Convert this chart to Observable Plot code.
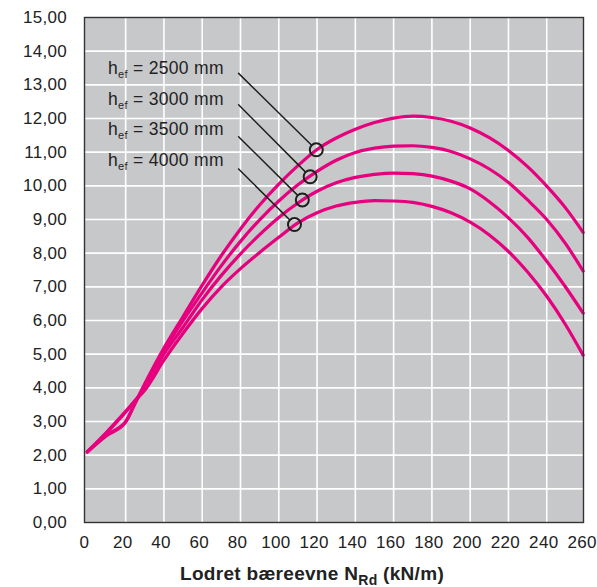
<!DOCTYPE html>
<html>
<head>
<meta charset="utf-8">
<script src="https://cdn.jsdelivr.net/npm/d3@7"></script>
<script src="https://cdn.jsdelivr.net/npm/@observablehq/plot@0.6"></script>
<style>
  body { margin: 0; background: #fff; }
  #chart svg { display: block; }
</style>
</head>
<body>
<div id="chart"></div>
<script>
// Lodret bæreevne N_Rd (kN/m)
const loadKN = [0, 10, 20, 25, 30, 40, 50, 60, 70, 80, 90, 100, 110, 120, 130, 140, 150, 160, 170, 180, 190, 200, 210, 220, 230, 240, 250, 259];
// curve values per effective height
const hef2500 = [2.1, 2.58, 2.98, 3.55, 4.12, 5.18, 6.12, 7.05, 7.93, 8.72, 9.43, 10.05, 10.6, 11.08, 11.42, 11.68, 11.88, 12.01, 12.07, 12.03, 11.92, 11.72, 11.43, 11.05, 10.57, 9.99, 9.33, 8.62];
const hef3000 = [2.1, 2.6, 3.0, 3.55, 4.1, 5.12, 6.0, 6.83, 7.63, 8.35, 8.99, 9.55, 10.03, 10.43, 10.76, 10.99, 11.12, 11.18, 11.19, 11.14, 11.02, 10.8, 10.5, 10.1, 9.58, 9.0, 8.27, 7.47];
const hef3500 = [2.1, 2.66, 3.28, 3.63, 4.0, 5.0, 5.8, 6.62, 7.34, 7.98, 8.55, 9.06, 9.49, 9.84, 10.09, 10.25, 10.34, 10.38, 10.36, 10.29, 10.14, 9.91, 9.53, 9.05, 8.47, 7.76, 6.98, 6.22];
const hef4000 = [2.1, 2.68, 3.3, 3.62, 3.93, 4.82, 5.62, 6.36, 7.0, 7.54, 8.02, 8.47, 8.9, 9.2, 9.4, 9.51, 9.56, 9.55, 9.51, 9.39, 9.2, 8.92, 8.54, 8.05, 7.44, 6.72, 5.86, 4.97];

const heights = [2500, 3000, 3500, 4000];
const seriesValues = [hef2500, hef3000, hef3500, hef4000];

// annotation: label anchor, leader start, marked point on each curve
const labelX = [10.8, 10.8, 10.8, 10.8];
const labelY = [13.48, 12.57, 11.67, 10.75];
const leaderX = [79, 79, 79, 79];
const leaderY = [13.34, 12.41, 11.46, 10.5];
const markX = [119.6, 116.4, 112.3, 108.2];
const markY = [11.07, 10.27, 9.58, 8.85];

const xTicks = [0, 20, 40, 60, 80, 100, 120, 140, 160, 180, 200, 220, 240, 260];
const yTicks = [0, 1, 2, 3, 4, 5, 6, 7, 8, 9, 10, 11, 12, 13, 14, 15];
const xGrid = xTicks.filter(d => d > 0 && d < 260);
const yGrid = yTicks.filter(d => d > 0 && d < 15);
const xLabel = "Lodret bæreevne NRd (kN/m)";

const rows = [];
heights.forEach((h, i) => loadKN.forEach((n, j) => rows.push({h, n, v: seriesValues[i][j]})));
const notes = heights.map((h, i) => ({
  h, text: `hef = ${h} mm`,
  lx: labelX[i], ly: labelY[i],
  x1: leaderX[i], y1: leaderY[i],
  x2: markX[i], y2: markY[i]
}));

const ink = "#222";
const chart = Plot.plot({
  width: 597,
  height: 587,
  marginLeft: 84,
  marginRight: 14,
  marginTop: 17,
  marginBottom: 65,
  x: {domain: [-1.5, 259.2]},
  y: {domain: [0, 15]},
  style: {fontFamily: "'Liberation Sans', Arial, Helvetica, sans-serif", fontSize: "17px", color: ink, background: "#fff", letterSpacing: "0.3px"},
  marks: [
    Plot.frame({fill: "#c7c8ca", stroke: null}),
    Plot.gridX(xGrid, {stroke: "#fff", strokeOpacity: 1, strokeWidth: 1.6}),
    Plot.gridY(yGrid, {stroke: "#fff", strokeOpacity: 1, strokeWidth: 1.6}),
    Plot.axisX(xTicks, {tickSize: 0, tickPadding: 13, dx: -3, fontSize: 17, tickFormat: d => String(d), label: null, fill: ink}),
    Plot.axisY(yTicks, {tickSize: 0, tickPadding: 17.5, fontSize: 17, tickFormat: d => d.toFixed(2).replace(".", ","), label: null, fill: ink}),
    Plot.line(rows, {x: "n", y: "v", z: "h", stroke: "#e6007e", strokeWidth: 3.2, curve: "monotone-x"}),
    Plot.arrow(notes, {x1: "x1", y1: "y1", x2: "x2", y2: "y2", bend: 0, headLength: 0, insetEnd: 6.5, stroke: "#1e1e1e", strokeWidth: 1.5}),
    Plot.dot(notes, {x: "x2", y: "y2", r: 6.5, stroke: "#1e1e1e", strokeWidth: 2, fill: "none"}),
    Plot.text(notes, {x: "lx", y: "ly", text: "text", textAnchor: "start", fontSize: 17.5, fill: ink}),
    Plot.text([xLabel], {frameAnchor: "bottom", dx: -22, dy: 57, fontSize: 19, fontWeight: "bold", fill: ink}),
    Plot.frame({stroke: "#333", strokeWidth: 1.4})
  ]
});

const NS = "http://www.w3.org/2000/svg";
function subscript(svg, full, pre, sub, post, subSize, shift) {
  svg.querySelectorAll("text").forEach(t => {
    if (t.textContent !== full) return;
    t.textContent = "";
    const a = document.createElementNS(NS, "tspan");
    a.textContent = pre;
    const b = document.createElementNS(NS, "tspan");
    b.textContent = sub;
    b.setAttribute("font-size", subSize);
    b.setAttribute("dy", shift);
    const c = document.createElementNS(NS, "tspan");
    c.textContent = post;
    c.setAttribute("dy", -shift);
    t.append(a, b, c);
  });
}
heights.forEach(h => subscript(chart, `hef = ${h} mm`, "h", "ef", ` = ${h} mm`, 11, 4));
subscript(chart, xLabel, "Lodret bæreevne N", "Rd", " (kN/m)", 14, 5);

document.getElementById("chart").append(chart);
</script>
</body>
</html>
